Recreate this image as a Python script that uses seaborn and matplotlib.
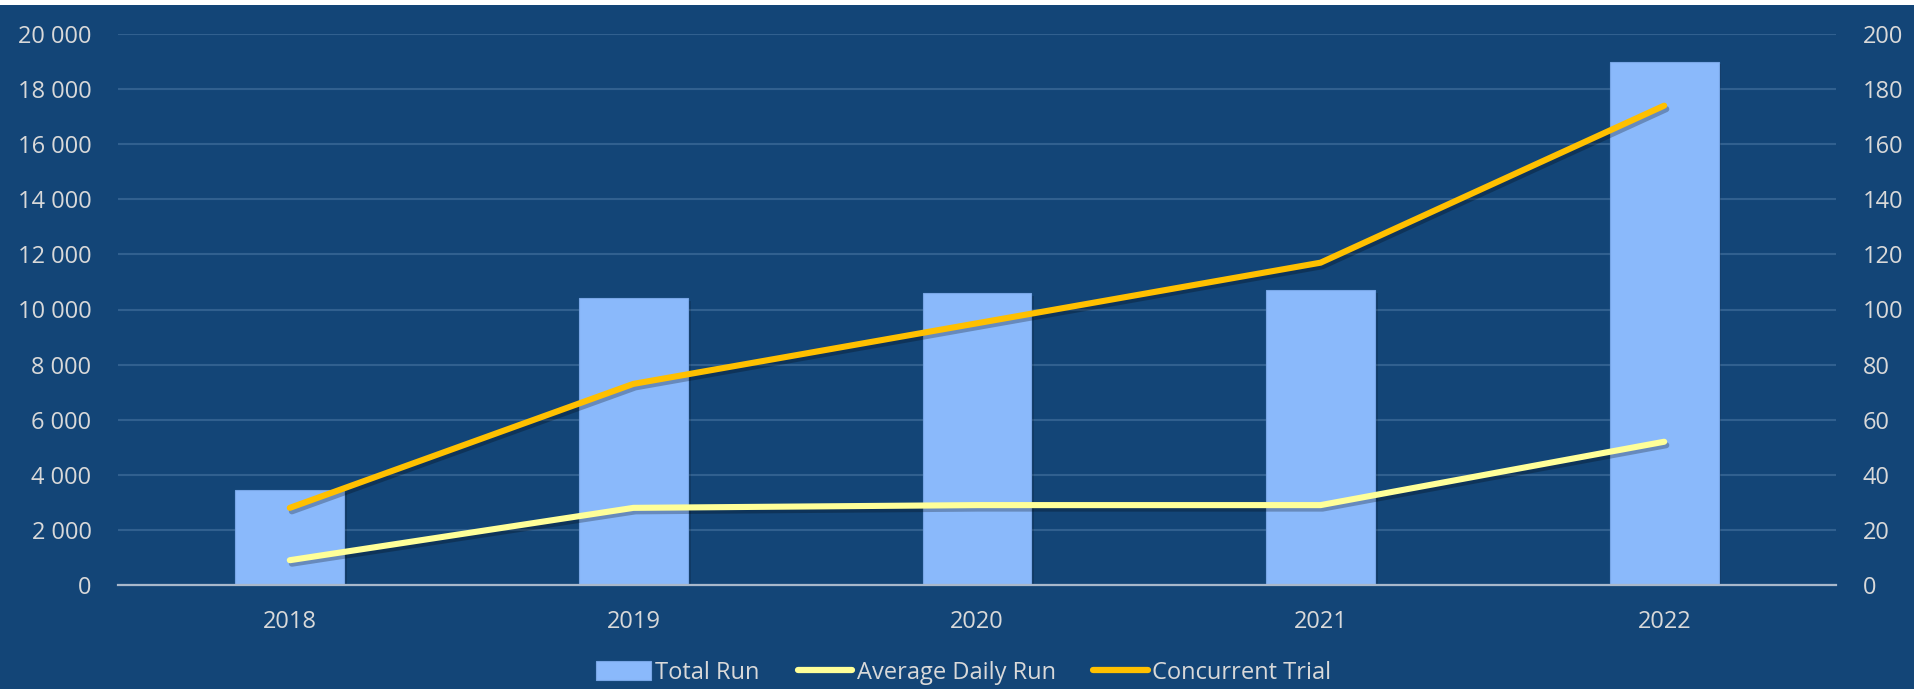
import numpy as np
import pandas as pd
import matplotlib
matplotlib.use("Agg")
import matplotlib.pyplot as plt
import matplotlib.patheffects as pe
from matplotlib.patches import Rectangle, Patch
from matplotlib.lines import Line2D
import seaborn as sns

years = ["2018", "2019", "2020", "2021", "2022"]
total_run = [3450, 10400, 10600, 10700, 19000]
avg_daily_run = [9, 28, 29, 29, 52]
concurrent_trial = [28, 73, 95, 117, 174]
left_ticks = [0, 2000, 4000, 6000, 8000, 10000, 12000, 14000, 16000, 18000, 20000]
right_ticks = [0, 20, 40, 60, 80, 100, 120, 140, 160, 180, 200]

BG = "#134577"
BAR = "#8AB9FB"
AVG = "#FFFF99"
CON = "#FFC000"
TXT = "#D9D9D9"
GRID = "#31608F"

sns.set_theme(style="white")
plt.rcParams["font.family"] = ["Open Sans", "DejaVu Sans"]

fig = plt.figure(figsize=(19.15, 6.89), dpi=100)
fig.patch.set_facecolor("white")
fig.patches.append(Rectangle((0, 0), 1, 684 / 689, transform=fig.transFigure,
                             facecolor=BG, edgecolor="none", zorder=-10))

ax = fig.add_axes([118 / 1915, 1 - 585 / 689, (1836 - 118) / 1915, (585 - 34) / 689])
ax.set_facecolor("none")

df = pd.DataFrame({"year": years, "total": total_run})
sns.barplot(data=df, x="year", y="total", ax=ax, color=BAR, saturation=1,
            width=0.317, edgecolor="#78A6E6", linewidth=0.8, zorder=3)
for p in ax.patches:
    p.set_path_effects([pe.SimplePatchShadow(offset=(2, -2), shadow_rgbFace="black", alpha=0.15), pe.Normal()])

ax.set_ylim(0, 20000)
ax.set_xlim(-0.5, len(years) - 0.5)
ax.set_yticks(left_ticks)
ax.set_yticklabels([f"{v:,}".replace(",", " ") for v in left_ticks])
ax.yaxis.grid(True, color=GRID, linewidth=1.5, zorder=0)
ax.set_axisbelow(True)
ax.set_xlabel("")
ax.set_ylabel("")
for s in ["top", "right", "left"]:
    ax.spines[s].set_visible(False)
ax.spines["bottom"].set_color("#A9B8CB")
ax.spines["bottom"].set_linewidth(1.6)
ax.spines["bottom"].set_zorder(4)
ax.tick_params(axis="y", length=0, pad=19, labelsize=17, labelcolor=TXT)
ax.tick_params(axis="x", length=0, pad=18, labelsize=17, labelcolor=TXT)

ax2 = ax.twinx()
ax2.set_facecolor("none")
xpos = np.arange(len(years))
ldf = pd.DataFrame({"x": xpos, "avg": avg_daily_run, "con": concurrent_trial})
shadow = [pe.SimpleLineShadow(offset=(1.5, -2.5), shadow_color="black", alpha=0.25), pe.Normal()]
sns.lineplot(data=ldf, x="x", y="avg", ax=ax2, color=AVG, linewidth=4.4,
             solid_capstyle="round", path_effects=shadow, zorder=5)
sns.lineplot(data=ldf, x="x", y="con", ax=ax2, color=CON, linewidth=4.4,
             solid_capstyle="round", path_effects=shadow, zorder=5)
ax2.set_ylim(0, 200)
ax2.set_yticks(right_ticks)
ax2.set_xlim(-0.5, len(years) - 0.5)
ax2.set_xlabel("")
ax2.set_ylabel("")
for s in ["top", "right", "left", "bottom"]:
    ax2.spines[s].set_visible(False)
ax2.tick_params(axis="y", length=0, pad=19, labelsize=17, labelcolor=TXT)
ax2.grid(False)

handles = [
    Patch(facecolor=BAR, edgecolor="#78A6E6", linewidth=0.8),
    Line2D([], [], color=AVG, linewidth=4.5, solid_capstyle="round"),
    Line2D([], [], color=CON, linewidth=4.5, solid_capstyle="round"),
]
labels = ["Total Run", "Average Daily Run", "Concurrent Trial"]
fig.legend(handles, labels, loc="center", bbox_to_anchor=(964 / 1915, 1 - 673 / 689),
           ncol=3, frameon=False, fontsize=17, labelcolor=TXT,
           handlelength=2.3, handleheight=0.85, handletextpad=0.2, columnspacing=1.6)

fig.savefig("out.png", dpi=100, facecolor=fig.get_facecolor())
